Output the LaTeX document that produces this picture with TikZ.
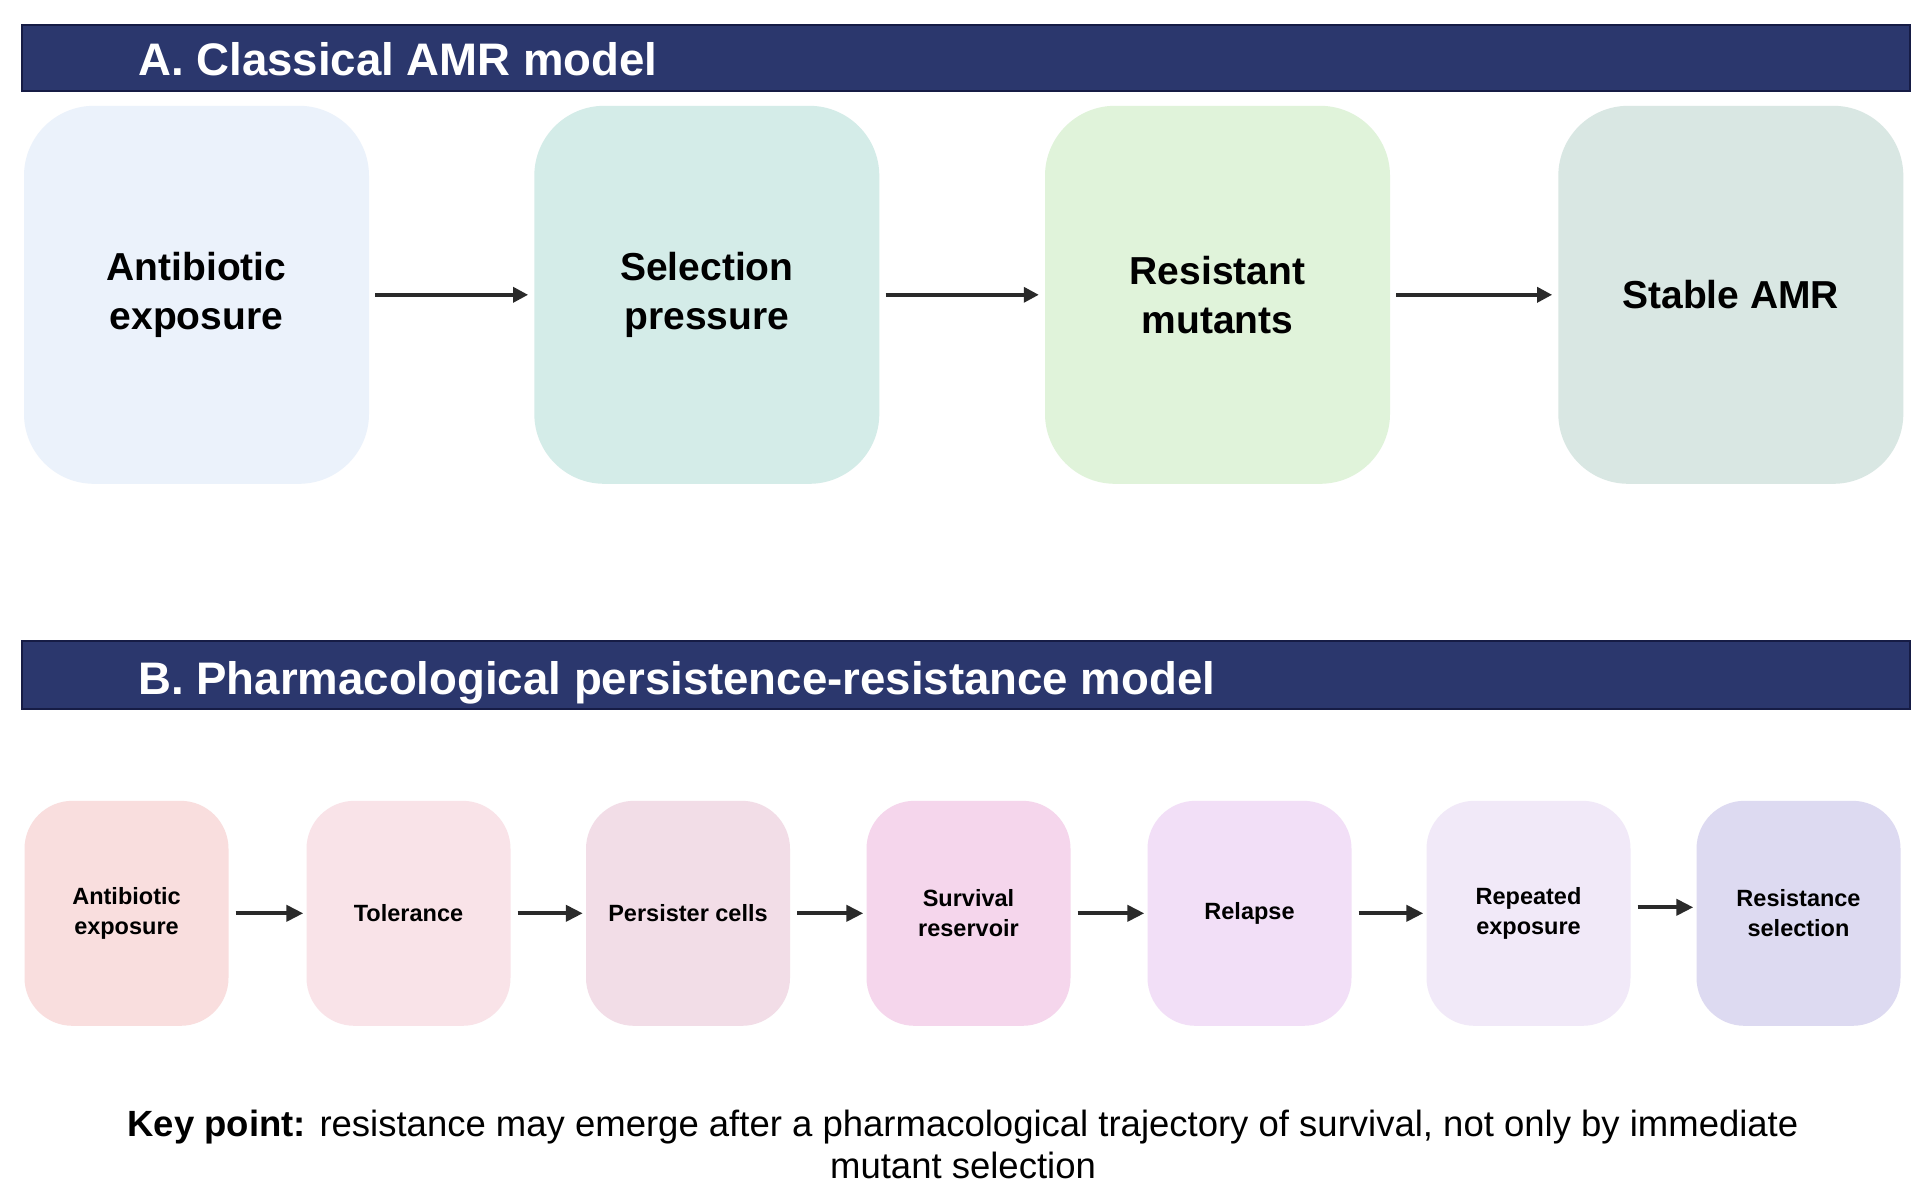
\documentclass[tikz,border=0pt]{standalone}
\usepackage{fontspec}
\setmainfont{Liberation Sans}
\usetikzlibrary{arrows.meta}
\definecolor{navy}{HTML}{2B376D}
\definecolor{navyedge}{HTML}{161C45}
\definecolor{arrowc}{HTML}{2A2A2A}
\definecolor{ca1}{HTML}{EBF2FB}
\definecolor{ca2}{HTML}{D4ECE8}
\definecolor{ca3}{HTML}{E0F3DA}
\definecolor{ca4}{HTML}{D9E7E3}
\definecolor{cb1}{HTML}{F9DEDE}
\definecolor{cb2}{HTML}{F9E3E8}
\definecolor{cb3}{HTML}{F2DDE7}
\definecolor{cb4}{HTML}{F5D6EC}
\definecolor{cb5}{HTML}{F2DFF7}
\definecolor{cb6}{HTML}{F1E9F8}
\definecolor{cb7}{HTML}{DDDAF1}
\tikzset{
  header/.style={draw=navyedge, line width=2.5pt, fill=navy},
  htitle/.style={anchor=base west, inner sep=0pt, text=white, font=\fontsize{45.6}{54}\selectfont\bfseries},
  boxA/.style={rectangle, rounded corners=70pt, minimum width=345pt, minimum height=378pt, inner sep=0pt, align=center, font=\fontsize{39}{49}\selectfont\bfseries},
  boxB/.style={rectangle, rounded corners=48pt, minimum width=204pt, minimum height=225pt, inner sep=0pt, align=center, font=\fontsize{23.5}{29.5}\selectfont\bfseries},
  arrA/.style={draw=arrowc, line width=3.5pt, -{Triangle[length=15pt,width=15pt]}, shorten <=6pt, shorten >=6pt},
  arrB/.style={draw=arrowc, line width=4pt, -{Triangle[length=17pt,width=16pt]}, shorten <=7pt, shorten >=3pt},
  keytext/.style={anchor=base, inner sep=0pt, font=\fontsize{36.5}{43}\selectfont}
}
\begin{document}
\begin{tikzpicture}[x=1pt,y=-1pt]
\useasboundingbox[fill=white] (0,0) rectangle (1926,1202);

% Section A
\path[header] (22,25) rectangle (1910,91);
\node[htitle] (ta) at (138,75) {A. Classical AMR model};

\node[boxA, fill=ca1] (a1) at (196.5,294.8) {Antibiotic\\exposure};
\node[boxA, fill=ca2] (a2) at (706.8,294.8) {Selection\\pressure};
\node[boxA, fill=ca3] (a3) at (1217.5,294.8) {Resistant\\mutants};
\node[boxA, fill=ca4] (a4) at (1730.8,294.8) {Stable AMR};

\draw[arrA] (a1) -- (a2);
\draw[arrA] (a2) -- (a3);
\draw[arrA] (a3) -- (a4);

% Section B
\path[header] (22,641) rectangle (1910,709);
\node[htitle] (tb) at (138,694) {B. Pharmacological persistence-resistance model};

\node[boxB, fill=cb1] (b1) at (126.5,913.3) {Antibiotic\\exposure};
\node[boxB, fill=cb2] (b2) at (408.5,913.3) {Tolerance};
\node[boxB, fill=cb3] (b3) at (688,913.3) {Persister cells};
\node[boxB, fill=cb4] (b4) at (968.5,913.3) {Survival\\reservoir};
\node[boxB, fill=cb5] (b5) at (1249.5,913.3) {Relapse};
\node[boxB, fill=cb6] (b6) at (1528.5,913.3) {Repeated\\exposure};
\node[boxB, fill=cb7] (b7) at (1798.5,913.3) {Resistance\\selection};

\draw[arrB] (b1) -- (b2);
\draw[arrB] (b2) -- (b3);
\draw[arrB] (b3) -- (b4);
\draw[arrB] (b4) -- (b5);
\draw[arrB] (b5) -- (b6);
\draw[arrB] ([yshift=6pt]b6.east) -- ([yshift=6pt]b7.west);

% Key point
\node[keytext] (k1) at (963,1136) {\textbf{Key point:} resistance may emerge after a pharmacological trajectory of survival, not only by immediate};
\node[keytext] (k2) at (963,1178) {mutant selection};
\end{tikzpicture}
\end{document}
